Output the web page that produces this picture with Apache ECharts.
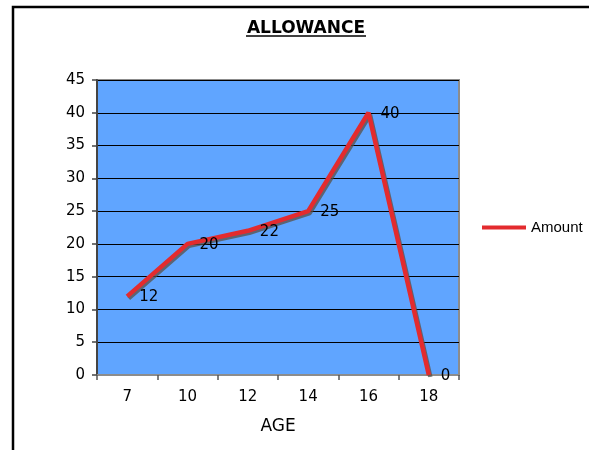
<!DOCTYPE html>
<html>
<head>
<meta charset="utf-8">
<script src="https://cdn.jsdelivr.net/npm/echarts@6/dist/echarts.min.js"></script>
<style>
html,body{margin:0;padding:0;background:#fff;}
#main{width:589px;height:450px;}
</style>
</head>
<body>
<div id="main"></div>
<script>
var categories = ['7', '10', '12', '14', '16', '18'];
var amounts = [12, 20, 22, 25, 40, 0];
var seriesName = 'Amount';
var titleText = 'ALLOWANCE';
var xAxisName = 'AGE';

var chart = echarts.init(document.getElementById('main'), null, {renderer: 'canvas'});
var font = '"DejaVu Sans", Arial, sans-serif';
chart.setOption({
  animation: false,
  backgroundColor: '#ffffff',
  title: {
    text: titleText,
    left: 306, top: 20, textAlign: 'center', padding: 0,
    textStyle: {fontFamily: font, fontSize: 17, fontWeight: 'bold', color: '#000'}
  },
  graphic: [
    {type: 'rect', shape: {x: 13, y: 7, width: 640, height: 500},
     style: {fill: 'none', stroke: '#000', lineWidth: 2.5}, z: 100},
    {type: 'line', shape: {x1: 246, y1: 36, x2: 366, y2: 36},
     style: {stroke: '#000', lineWidth: 1.5}, z: 100}
  ],
  legend: {
    left: 482, top: 220, padding: 0,
    itemWidth: 44, itemHeight: 4, itemGap: 5,
    icon: 'rect',
    textStyle: {fontFamily: '"Liberation Sans", Arial, sans-serif', fontSize: 15, color: '#000', padding: [0,0,0,0]},
    data: [{name: seriesName, itemStyle: {color: '#E32B2E'}}]
  },
  grid: {
    left: 97, right: 130, top: 80, bottom: 75,
    show: true, backgroundColor: '#60A5FF', borderColor: '#8c8c8c', borderWidth: 2
  },
  xAxis: {
    type: 'category', data: categories, boundaryGap: true,
    name: xAxisName, nameLocation: 'middle', nameGap: 43,
    nameTextStyle: {fontFamily: font, fontSize: 17, color: '#000'},
    axisLine: {lineStyle: {color: '#8c8c8c', width: 2}},
    axisTick: {show: true, interval: 0, length: 5, lineStyle: {color: '#555', width: 1.5}},
    axisLabel: {fontFamily: font, fontSize: 15, color: '#000', margin: 15, interval: 0},
    splitLine: {show: false}
  },
  yAxis: {
    type: 'value', min: 0, max: 45, interval: 5,
    axisLine: {show: true, lineStyle: {color: '#444', width: 2}},
    axisTick: {show: true, length: 5, lineStyle: {color: '#444', width: 1.5}},
    axisLabel: {fontFamily: font, fontSize: 15, color: '#000', margin: 12},
    splitLine: {show: true, lineStyle: {color: '#000', width: 1}}
  },
  series: [{
    name: seriesName, type: 'line', data: amounts,
    symbol: 'circle', symbolSize: 0, showSymbol: true,
    itemStyle: {color: '#E32B2E'},
    lineStyle: {color: '#E32B2E', width: 4.5,
      shadowColor: 'rgba(90,80,70,0.75)', shadowOffsetX: 1.5, shadowOffsetY: 2, shadowBlur: 0},
    label: {show: true, position: 'right', distance: 12, offset: [0, 1],
      fontFamily: font, fontSize: 15, color: '#000'},
    z: 5
  }]
});
</script>
</body>
</html>
